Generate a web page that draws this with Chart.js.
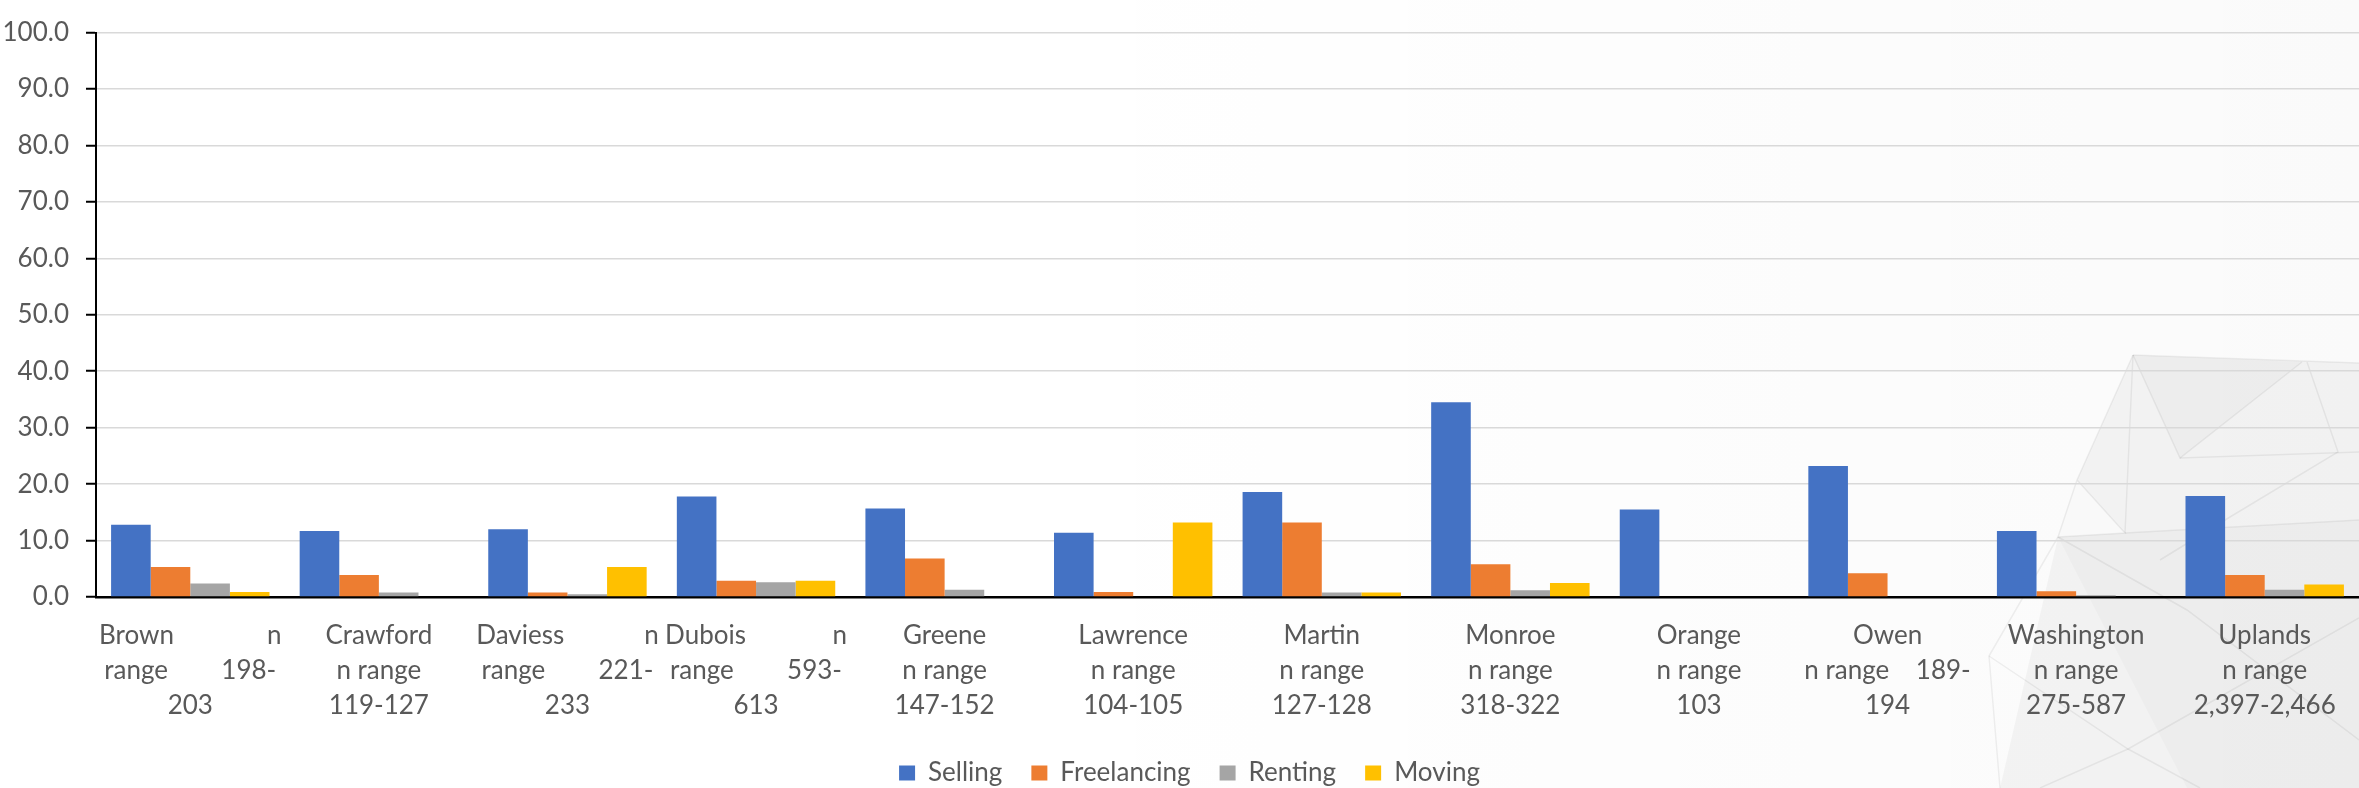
<!DOCTYPE html>
<html>
<head>
<meta charset="utf-8">
<script src="https://cdn.jsdelivr.net/npm/chart.js@4.4.1/dist/chart.umd.min.js"></script>
<style>
  html, body { margin: 0; padding: 0; background: #ffffff; }
  #wrap { width: 2359px; height: 788px; position: relative; }
  canvas { display: block; }
</style>
</head>
<body>
<div id="wrap"><canvas id="chart" width="2359" height="788"></canvas></div>
<script>
// County groups, with the sample-size range shown under each name.
// A "|" marks a line that is spread out to the full label width.
const tickLines = [
  ['Brown|n', 'range|198-', '203'],
  ['Crawford', 'n range', '119-127'],
  ['Daviess|n', 'range|221-', '233'],
  ['Dubois|n', 'range|593-', '613'],
  ['Greene', 'n range', '147-152'],
  ['Lawrence', 'n range', '104-105'],
  ['Martin', 'n range', '127-128'],
  ['Monroe', 'n range', '318-322'],
  ['Orange', 'n range', '103'],
  ['Owen', 'n range|189-', '194'],
  ['Washington', 'n range', '275-587'],
  ['Uplands', 'n range', '2,397-2,466']
];

const seriesNames = ['Selling', 'Freelancing', 'Renting', 'Moving'];

const selling     = [12.8, 11.7, 12.0, 17.8, 15.7, 11.4, 18.6, 34.5, 15.5, 23.2, 11.7, 17.9];
const freelancing = [ 5.3,  3.9,  0.8,  2.9,  6.8,  0.9, 13.2,  5.8,  0.0,  4.2,  1.0,  3.9];
const renting     = [ 2.4,  0.8,  0.5,  2.6,  1.3,  0.0,  0.8,  1.2,  0.0,  0.0,  0.3,  1.3];
const moving      = [ 0.9,  0.0,  5.3,  2.9,  0.0, 13.2,  0.8,  2.5,  0.0,  0.0,  0.0,  2.2];

const yTickValues = [0, 10, 20, 30, 40, 50, 60, 70, 80, 90, 100];

const COLORS = ['#4472C4', '#ED7D31', '#A5A5A5', '#FFC000'];
const TEXT = '#595959';
const FAMILY = 'Lato, "Open Sans", sans-serif';
const FONT_SIZE = 26;

// Spread a two-part line so it fills the given width, like justified text.
const measureCtx = document.createElement('canvas').getContext('2d');
measureCtx.font = FONT_SIZE + 'px ' + FAMILY;
const JUSTIFY_WIDTHS = [183, 172];
function justify(line, width) {
  if (line.indexOf('|') < 0) return line;
  const parts = line.split('|');
  let gap = ' ';
  while (measureCtx.measureText(parts[0] + gap + ' ' + parts[1]).width <= width) gap += ' ';
  return parts[0] + gap + parts[1];
}
const labels = tickLines.map(lines => lines.map((l, i) => justify(l, JUSTIFY_WIDTHS[i] || 180)));

// Soft low-poly backdrop drawn behind the plot.
const backdrop = {
  id: 'backdrop',
  beforeDraw(chart) {
    const ctx = chart.ctx;
    const W = chart.width, H = chart.height;
    ctx.save();
    ctx.fillStyle = '#ffffff';
    ctx.fillRect(0, 0, W, H);
    const g = ctx.createLinearGradient(1000, 0, W, 0);
    g.addColorStop(0, 'rgba(0,0,0,0)');
    g.addColorStop(1, 'rgba(0,0,0,0.02)');
    ctx.fillStyle = g;
    ctx.fillRect(1000, 0, W - 1000, H);

    const poly = (pts, fill) => {
      ctx.beginPath();
      ctx.moveTo(pts[0][0], pts[0][1]);
      for (let i = 1; i < pts.length; i++) ctx.lineTo(pts[i][0], pts[i][1]);
      ctx.closePath();
      ctx.fillStyle = fill;
      ctx.fill();
    };
    poly([[2133, 355], [2359, 363], [2359, 788], [2000, 788], [2058, 537], [2077, 480]], 'rgba(0,0,0,0.035)');
    poly([[2133, 355], [2302, 362], [2180, 458]], 'rgba(0,0,0,0.02)');
    poly([[2058, 537], [2359, 520], [2359, 788], [2187, 788]], 'rgba(0,0,0,0.02)');
    poly([[2077, 480], [2125, 533], [2058, 537]], 'rgba(255,255,255,0.5)');

    ctx.strokeStyle = 'rgba(0,0,0,0.06)';
    ctx.lineWidth = 1.5;
    const seg = (pts) => {
      ctx.beginPath();
      ctx.moveTo(pts[0][0], pts[0][1]);
      for (let i = 1; i < pts.length; i++) ctx.lineTo(pts[i][0], pts[i][1]);
      ctx.stroke();
    };
    seg([[2133, 355], [2359, 363]]);
    seg([[2133, 355], [2180, 458], [2302, 362]]);
    seg([[2180, 458], [2359, 452]]);
    seg([[2307, 362], [2338, 452], [2230, 517], [2160, 560]]);
    seg([[2125, 533], [2359, 520]]);
    seg([[2133, 355], [2125, 533]]);
    seg([[2133, 355], [2077, 480], [2058, 537], [2125, 533], [2077, 480]]);
    seg([[2058, 537], [2187, 610], [2359, 740]]);
    seg([[2359, 618], [2128, 749], [1989, 656]]);
    seg([[2128, 749], [2200, 788]]);
    seg([[2128, 749], [2040, 788]]);
    seg([[2058, 537], [1989, 656], [2000, 788]]);
    ctx.restore();
  }
};

// Nudge the legend row slightly right of the canvas centre.
const legendNudge = {
  id: 'legendNudge',
  afterLayout(chart) {
    const lg = chart.legend;
    if (lg) { lg.left += 10; lg.right += 10; }
  }
};

new Chart(document.getElementById('chart'), {
  type: 'bar',
  data: {
    labels: labels,
    datasets: [selling, freelancing, renting, moving].map((vals, i) => ({
      label: seriesNames[i],
      data: vals,
      backgroundColor: COLORS[i],
      borderWidth: 0,
      categoryPercentage: 0.84,
      barPercentage: 1.0
    }))
  },
  options: {
    responsive: false,
    animation: false,
    devicePixelRatio: 1,
    layout: { padding: { left: 0, right: 0, top: 0, bottom: -8 } },
    plugins: {
      legend: {
        position: 'bottom',
        labels: {
          boxWidth: 16,
          boxHeight: 15,
          padding: 29,
          color: TEXT,
          font: { family: FAMILY, size: FONT_SIZE }
        }
      },
      tooltip: { enabled: false }
    },
    scales: {
      x: {
        grid: { display: false, drawTicks: false },
        border: { display: true, color: '#000000', width: 2.5 },
        ticks: {
          color: TEXT,
          font: { family: FAMILY, size: FONT_SIZE, lineHeight: 1.35 },
          padding: 21,
          maxRotation: 0,
          autoSkip: false
        },
        afterFit: s => { s.height = 134; }
      },
      y: {
        min: yTickValues[0],
        max: yTickValues[yTickValues.length - 1],
        afterBuildTicks: s => { s.ticks = yTickValues.map(v => ({ value: v })); },
        ticks: {
          color: TEXT,
          font: { family: FAMILY, size: FONT_SIZE },
          padding: 17,
          callback: v => Number(v).toFixed(1)
        },
        grid: {
          color: '#d9d9d9',
          lineWidth: 1.5,
          tickColor: '#000000',
          tickLength: 10,
          tickWidth: 2
        },
        border: { color: '#000000', width: 2 },
        afterFit: s => { s.width = 96; }
      }
    }
  },
  plugins: [backdrop, legendNudge]
});
</script>
</body>
</html>
